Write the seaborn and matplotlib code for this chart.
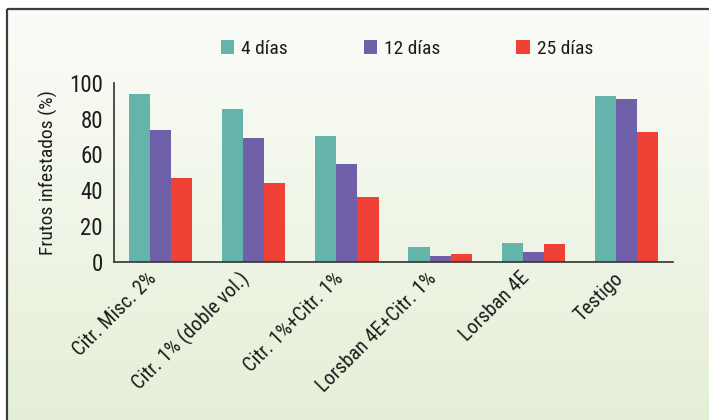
import numpy as np
import pandas as pd
import matplotlib
matplotlib.use("Agg")
import matplotlib.pyplot as plt
import matplotlib.transforms as mtransforms
import seaborn as sns
from matplotlib.patches import Rectangle, Patch

# Treatments and infestation percentages after each interval
tratamientos = ["Citr. Misc. 2%", "Citr. 1% (doble vol.)", "Citr. 1%+Citr. 1%",
                "Lorsban 4E+Citr. 1%", "Lorsban 4E", "Testigo"]
dias_4 = [93.7, 85.3, 70.2, 8.2, 10.4, 92.6]
dias_12 = [73.6, 69.1, 54.6, 3.2, 5.4, 90.9]
dias_25 = [46.8, 43.9, 36.1, 4.3, 9.9, 72.5]
series = ["4 días", "12 días", "25 días"]
colores = ["#64b4ab", "#6f60a9", "#ef4136"]
y_ticks = [0, 20, 40, 60, 80, 100]

df = pd.DataFrame({
    "Tratamiento": tratamientos * 3,
    "Serie": [series[0]] * 6 + [series[1]] * 6 + [series[2]] * 6,
    "Valor": dias_4 + dias_12 + dias_25,
})

sns.set_style("white")
plt.rcParams["font.family"] = ["Roboto Condensed", "Liberation Sans Narrow", "DejaVu Sans"]
plt.rcParams["font.stretch"] = "condensed"

W, H = 709, 420
fig = plt.figure(figsize=(W / 100, H / 100), dpi=100)

# Soft vertical gradient background inside the frame
bg = fig.add_axes([0, 0, 1, 1], zorder=0)
grad = np.linspace(0, 1, 256).reshape(-1, 1)
top = np.array([0xfb, 0xfc, 0xf8]) / 255
bot = np.array([0xe5, 0xef, 0xd7]) / 255
img = top[None, None, :] * (1 - grad[:, :, None]) + bot[None, None, :] * grad[:, :, None]
bg.imshow(img, aspect="auto", extent=[7, W + 5, H + 5, 9])
bg.set_xlim(0, W)
bg.set_ylim(H, 0)
bg.add_patch(Rectangle((7, 9), W + 10, H + 10, fill=False, edgecolor="#3c3c3c", linewidth=1.6))
bg.axis("off")

ax = fig.add_axes([114 / W, 1 - 261.7 / H, (673 - 114) / W, (261.7 - 82.7) / H], zorder=1)
ax.set_facecolor("none")
sns.barplot(data=df, x="Tratamiento", y="Valor", hue="Serie", palette=colores,
            width=0.68, gap=0, saturation=1, linewidth=0, ax=ax, legend=False)

ax.set_xlim(-0.5, 5.5)
ax.set_ylim(0, 100)
ax.set_yticks(y_ticks)
ax.set_xticks(range(6))
ax.set_xticklabels(tratamientos, rotation=45, ha="right", fontsize=14.6, color="#1c1c1c")
shift = mtransforms.ScaledTranslation(7 / 100, 0, fig.dpi_scale_trans)
for lbl in ax.get_xticklabels():
    lbl.set_transform(lbl.get_transform() + shift)
ax.set_xticks(np.arange(-0.5, 6.0, 1.0), minor=True)
ax.tick_params(axis="x", which="major", length=0, pad=5)
ax.tick_params(axis="x", which="minor", length=5, width=1.2, color="#333333", direction="out")
ax.tick_params(axis="y", length=5, width=1.2, color="#333333", direction="out",
               labelsize=16.5, labelcolor="#1c1c1c", pad=3)
for s in ["top", "right"]:
    ax.spines[s].set_visible(False)
for s in ["left", "bottom"]:
    ax.spines[s].set_color("#333333")
    ax.spines[s].set_linewidth(1.2)
ax.set_xlabel("")
ax.set_ylabel("Frutos infestados (%)", fontsize=14, color="#1c1c1c", labelpad=8)

handles = [Patch(facecolor=c, edgecolor="none", label=s) for c, s in zip(colores, series)]
fig.legend(handles=handles, loc="center", bbox_to_anchor=(407 / W, 1 - 49 / H), ncol=3,
           frameon=False, fontsize=14, handlelength=0.7, handleheight=0.7,
           handletextpad=0.35, columnspacing=3.9, labelcolor="#1c1c1c")

fig.savefig("out.png", dpi=100)
